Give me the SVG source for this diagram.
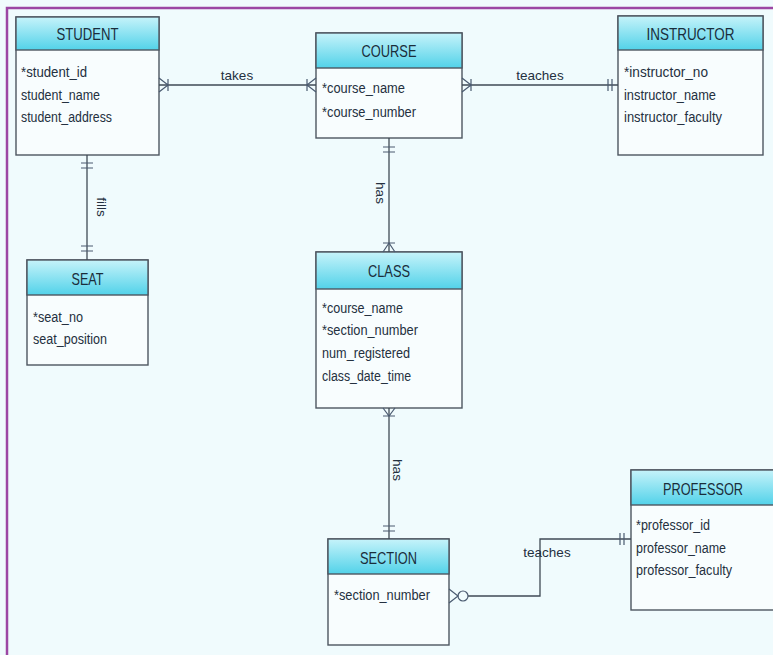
<svg xmlns="http://www.w3.org/2000/svg" width="773" height="655" viewBox="0 0 773 655">
  <defs>
    <linearGradient id="hdr" x1="0" y1="0" x2="0" y2="1">
      <stop offset="0" stop-color="#c6f3fa"/>
      <stop offset="1" stop-color="#52d2e9"/>
    </linearGradient>
    <style>
      .body { fill: #f8fdfe; stroke: #4d5660; stroke-width: 1.4; }
      .head { fill: url(#hdr); stroke: #4d5660; stroke-width: 1.4; }
      .title { font-family: "Liberation Sans", Arial, sans-serif; font-size: 17px; fill: #1a2d3b; text-anchor: middle; }
      .attr { font-family: "Liberation Sans", Arial, sans-serif; font-size: 14px; fill: #243040; }
      .lbl { font-family: "Liberation Sans", Arial, sans-serif; font-size: 13.5px; fill: #243040; text-anchor: middle; }
      .ln { fill: none; stroke: #3f4a55; stroke-width: 1.3; }
      .mk { fill: none; stroke: #4a5a70; stroke-width: 1.2; }
    </style>
  </defs>

  <!-- canvas and frame -->
  <rect x="0" y="0" width="773" height="655" fill="#f0fbfd"/>
  <rect x="7" y="8" width="780" height="660" fill="none" stroke="#9c47a4" stroke-width="2.5"/>

  <!-- STUDENT -->
  <g id="student">
    <rect class="body" x="16" y="17" width="143" height="138"/>
    <rect class="head" x="16" y="17" width="143" height="33"/>
    <text class="title" x="87.5" y="39.5" textLength="62" lengthAdjust="spacingAndGlyphs">STUDENT</text>
    <text class="attr" x="21" y="77" textLength="66" lengthAdjust="spacingAndGlyphs">*student_id</text>
    <text class="attr" x="21" y="100" textLength="79" lengthAdjust="spacingAndGlyphs">student_name</text>
    <text class="attr" x="21" y="122" textLength="91" lengthAdjust="spacingAndGlyphs">student_address</text>
  </g>

  <!-- COURSE -->
  <g id="course">
    <rect class="body" x="316" y="33" width="146" height="105"/>
    <rect class="head" x="316" y="33" width="146" height="35"/>
    <text class="title" x="389" y="56.5" textLength="55" lengthAdjust="spacingAndGlyphs">COURSE</text>
    <text class="attr" x="322" y="93" textLength="83" lengthAdjust="spacingAndGlyphs">*course_name</text>
    <text class="attr" x="322" y="117" textLength="94" lengthAdjust="spacingAndGlyphs">*course_number</text>
  </g>

  <!-- INSTRUCTOR -->
  <g id="instructor">
    <rect class="body" x="618" y="16" width="145" height="139"/>
    <rect class="head" x="618" y="16" width="145" height="34"/>
    <text class="title" x="690.5" y="39.5" textLength="88" lengthAdjust="spacingAndGlyphs">INSTRUCTOR</text>
    <text class="attr" x="624" y="77" textLength="84" lengthAdjust="spacingAndGlyphs">*instructor_no</text>
    <text class="attr" x="624" y="100" textLength="92" lengthAdjust="spacingAndGlyphs">instructor_name</text>
    <text class="attr" x="624" y="122" textLength="98" lengthAdjust="spacingAndGlyphs">instructor_faculty</text>
  </g>

  <!-- SEAT -->
  <g id="seat">
    <rect class="body" x="27" y="260" width="121" height="105"/>
    <rect class="head" x="27" y="260" width="121" height="35"/>
    <text class="title" x="87.5" y="284.5" textLength="32" lengthAdjust="spacingAndGlyphs">SEAT</text>
    <text class="attr" x="33" y="322" textLength="50" lengthAdjust="spacingAndGlyphs">*seat_no</text>
    <text class="attr" x="33" y="344" textLength="74" lengthAdjust="spacingAndGlyphs">seat_position</text>
  </g>

  <!-- CLASS -->
  <g id="class">
    <rect class="body" x="316" y="252" width="146" height="156"/>
    <rect class="head" x="316" y="252" width="146" height="37"/>
    <text class="title" x="389" y="276.5" textLength="42" lengthAdjust="spacingAndGlyphs">CLASS</text>
    <text class="attr" x="322" y="313" textLength="81" lengthAdjust="spacingAndGlyphs">*course_name</text>
    <text class="attr" x="322" y="335" textLength="96" lengthAdjust="spacingAndGlyphs">*section_number</text>
    <text class="attr" x="322" y="358" textLength="88" lengthAdjust="spacingAndGlyphs">num_registered</text>
    <text class="attr" x="322" y="381" textLength="89" lengthAdjust="spacingAndGlyphs">class_date_time</text>
  </g>

  <!-- SECTION -->
  <g id="section">
    <rect class="body" x="328" y="539" width="121" height="106"/>
    <rect class="head" x="328" y="539" width="121" height="35"/>
    <text class="title" x="388.5" y="563.5" textLength="57" lengthAdjust="spacingAndGlyphs">SECTION</text>
    <text class="attr" x="334" y="600" textLength="96" lengthAdjust="spacingAndGlyphs">*section_number</text>
  </g>

  <!-- PROFESSOR -->
  <g id="professor">
    <rect class="body" x="631" y="470" width="150" height="140"/>
    <rect class="head" x="631" y="470" width="150" height="35"/>
    <text class="title" x="703" y="494.5" textLength="80" lengthAdjust="spacingAndGlyphs">PROFESSOR</text>
    <text class="attr" x="636" y="530" textLength="74" lengthAdjust="spacingAndGlyphs">*professor_id</text>
    <text class="attr" x="636" y="553" textLength="90" lengthAdjust="spacingAndGlyphs">professor_name</text>
    <text class="attr" x="636" y="575" textLength="96" lengthAdjust="spacingAndGlyphs">professor_faculty</text>
  </g>

  <!-- relationships -->
  <g id="connectors">
    <!-- STUDENT takes COURSE -->
    <line class="ln" x1="159" y1="85" x2="316" y2="85"/>
    <path class="mk" d="M159 78 L168 85 L159 92 M168 79 V91"/>
    <path class="mk" d="M316 78 L307 85 L316 92 M307 79 V91"/>
    <text class="lbl" x="237" y="80">takes</text>

    <!-- INSTRUCTOR teaches COURSE -->
    <line class="ln" x1="462" y1="85" x2="618" y2="85"/>
    <path class="mk" d="M462 78 L471 85 L462 92 M471 79 V91"/>
    <path class="mk" d="M608 79 V91 M612 79 V91"/>
    <text class="lbl" x="540" y="80">teaches</text>

    <!-- COURSE has CLASS -->
    <line class="ln" x1="389" y1="138" x2="389" y2="252"/>
    <path class="mk" d="M383 147 H395 M383 152 H395"/>
    <path class="mk" d="M383 252 L389 243 L395 252 M383 243 H395"/>
    <text class="lbl" transform="translate(376 193) rotate(90)">has</text>

    <!-- STUDENT fills SEAT -->
    <line class="ln" x1="87" y1="155" x2="87" y2="260"/>
    <path class="mk" d="M81 163 H93 M81 168 H93"/>
    <path class="mk" d="M81 246 H93 M81 251 H93"/>
    <text class="lbl" transform="translate(97 207) rotate(90)">fills</text>

    <!-- CLASS has SECTION -->
    <line class="ln" x1="389" y1="408" x2="389" y2="539"/>
    <path class="mk" d="M383 408 L389 416 L395 408 M383 416 H395"/>
    <path class="mk" d="M383 526 H395 M383 531 H395"/>
    <text class="lbl" transform="translate(393 470) rotate(90)">has</text>

    <!-- PROFESSOR teaches SECTION -->
    <path class="ln" d="M468 596 H540 V539 H631"/>
    <path class="mk" d="M449 589 L458 596 L449 603"/>
    <circle class="mk" cx="463" cy="596" r="5"/>
    <path class="mk" d="M620 533 V545 M624 533 V545"/>
    <text class="lbl" x="547" y="557">teaches</text>
  </g>
</svg>
